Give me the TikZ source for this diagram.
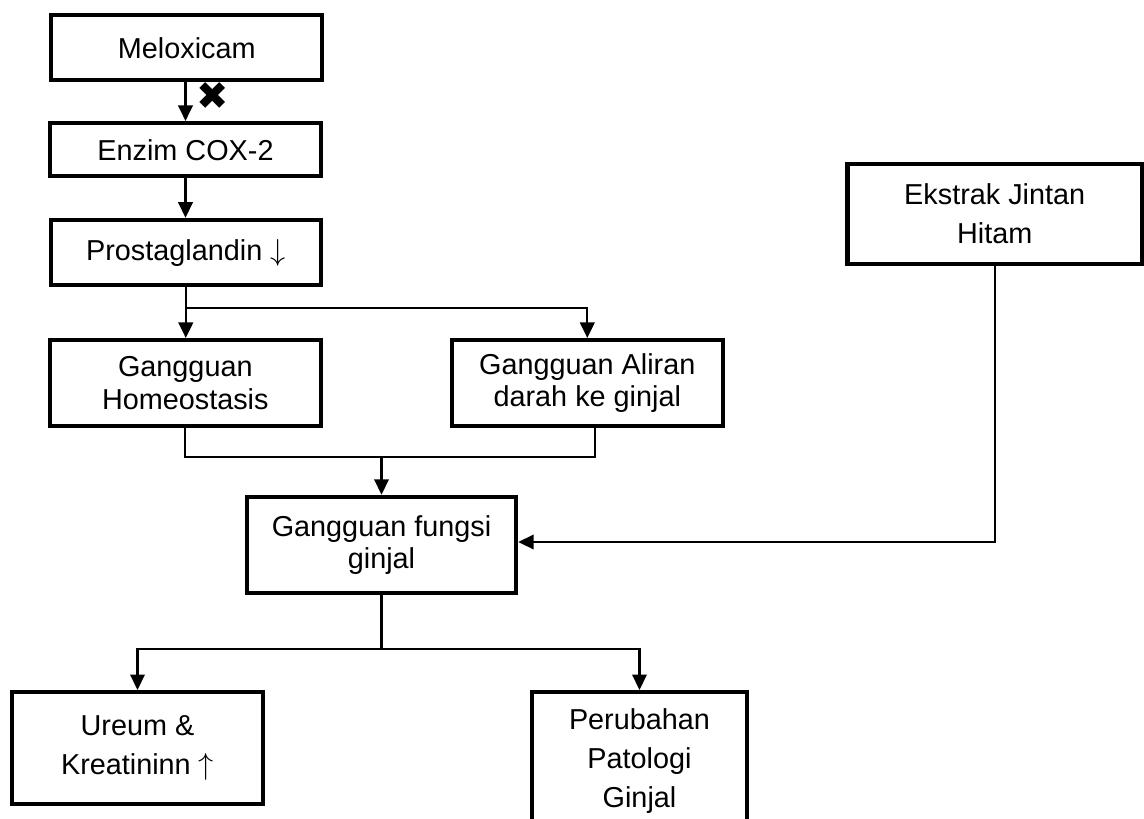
\documentclass[tikz,border=0pt]{standalone}
\usepackage{fontspec}
\setmainfont{Liberation Sans}
\newfontfamily\simbol{DejaVu Sans}
\usetikzlibrary{arrows.meta,calc}
\tikzset{every picture/.style={line width=1pt}}
\tikzset{
  kotak/.style={draw, line width=2.3pt, rectangle, inner sep=0pt, align=center,
    font=\fontsize{16.4}{22.4}\selectfont},
  rapat/.style={font=\fontsize{16.4}{18.6}\selectfont},
  garis/.style={line width=1.25pt},
  panah/.style={-{Triangle[length=0.31cm,width=0.29cm]}},
  silang/.style={inner sep=0pt, font=\simbol\fontsize{22}{22}\selectfont}
}

\begin{document}
\begin{tikzpicture}[x=0.02cm, y=-0.02cm]
    \useasboundingbox (0,0) rectangle (1144,819);
    % kotak kiri atas
    \node[kotak, minimum width=5.42cm, minimum height=1.3cm] (melox) at (186.8,47.8) {Meloxicam};
    \node[kotak, minimum width=5.43cm, minimum height=1.07cm] (enzim) at (185.5,149.7) {Enzim COX-2};
    \node[kotak, minimum width=5.41cm, minimum height=1.31cm] (prost) at (185.8,252.5) {Prostaglandin $\downarrow$};
    % gangguan
    \node[kotak, rapat, minimum width=5.43cm, minimum height=1.72cm] (homeo) at (185.3,383) {Gangguan\\Homeostasis};
    \node[kotak, rapat, minimum width=5.41cm, minimum height=1.72cm] (aliran) at (587.3,383) {Gangguan Aliran\\darah ke ginjal};
    \node[kotak, rapat, minimum width=5.39cm, minimum height=1.93cm] (fungsi) at (381.5,545) {Gangguan fungsi\\ginjal};
    % ekstrak
    \node[kotak, minimum width=5.89cm, minimum height=2cm] (ekstrak) at (994.7,214) {Ekstrak Jintan\\Hitam};
    % hasil
    \node[kotak, minimum width=5.01cm, minimum height=2.24cm] (ureum) at (137.5,748) {Ureum \&\\Kreatininn $\uparrow$};
    \node[kotak, minimum width=4.3cm, minimum height=2.76cm] (perub) at (639.5,761) {Perubahan\\Patologi\\Ginjal};
    % hambatan
    \node[silang] (blok) at (213,96) {✖};
    % panah atas
    \draw[garis, panah] (melox.south -| enzim.north) -- (enzim.north);
    \draw[garis, panah] (enzim.south) -- (enzim.south |- prost.north);
    % cabang prostaglandin
    \coordinate (cabang) at ($(prost.south)+(0,21)$);
    \draw[garis] (prost.south) -- (cabang);
    \draw[garis, panah] (cabang) -- (cabang |- homeo.north);
    \draw[garis, panah] (cabang) -| (aliran.north);
    % gabung ke fungsi ginjal
    \coordinate (gabung) at ($(fungsi.north)+(0,-37.7)$);
    \draw[garis] (homeo.south) |- (gabung) -| ($(aliran.south)+(8,0)$);
    \draw[garis, panah] (gabung) -- (fungsi.north);
    \draw[garis, panah] (ekstrak.south) |- ($(fungsi.east)+(0,-3)$);
    % cabang bawah
    \coordinate (bagi) at ($(fungsi.south)+(0,54)$);
    \draw[garis] (fungsi.south) -- (bagi);
    \draw[garis, panah] (bagi) -| (ureum.north);
    \draw[garis, panah] (bagi) -| (perub.north);
\end{tikzpicture}
\end{document}
